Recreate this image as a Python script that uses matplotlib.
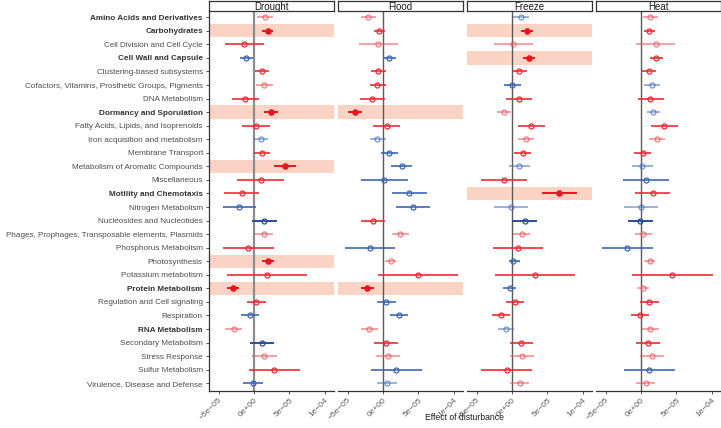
import matplotlib
matplotlib.use("Agg")
import matplotlib.pyplot as plt
import numpy as np

plt.rcParams['font.family'] = ['Liberation Sans', 'DejaVu Sans']

categories = [
    "Amino Acids and Derivatives", "Carbohydrates", "Cell Division and Cell Cycle",
    "Cell Wall and Capsule", "Clustering-based subsystems",
    "Cofactors, Vitamins, Prosthetic Groups, Pigments", "DNA Metabolism",
    "Dormancy and Sporulation", "Fatty Acids, Lipids, and Isoprenoids",
    "Iron acquisition and metabolism", "Membrane Transport",
    "Metabolism of Aromatic Compounds", "Miscellaneous", "Motility and Chemotaxis",
    "Nitrogen Metabolism", "Nucleosides and Nucleotides",
    "Phages, Prophages, Transposable elements, Plasmids", "Phosphorus Metabolism",
    "Photosynthesis", "Potassium metabolism", "Protein Metabolism",
    "Regulation and Cell signaling", "Respiration", "RNA Metabolism",
    "Secondary Metabolism", "Stress Response", "Sulfur Metabolism",
    "Virulence, Disease and Defense",
]
bold_categories = ["Amino Acids and Derivatives", "Carbohydrates", "Cell Wall and Capsule",
                   "Dormancy and Sporulation", "Motility and Chemotaxis",
                   "Protein Metabolism", "RNA Metabolism"]

panels = ["Drought", "Flood", "Freeze", "Heat"]

# values in units of 1e-5
drought_mean = [1.55, 1.92, -1.36, -1.08, 1.08, 1.46, -1.22, 2.39, 0.23, 0.94, 1.08, 4.41, 0.99, -1.74,
                -2.11, 1.46, 1.36, -0.80, 1.97, 1.78, -2.96, 0.28, -0.61, -2.86, 1.08, 1.46, 2.86, -0.19]
drought_lo = [0.47, 1.17, -4.04, -1.97, 0.09, 0.28, -3.05, 1.46, -1.64, -0.19, -0.05, 2.86, -2.35, -4.23,
              -4.41, -0.28, 0.19, -4.32, 1.17, -3.85, -3.85, -1.03, -1.88, -4.04, -0.56, -0.28, -0.70, -1.50]
drought_hi = [2.63, 2.72, 1.41, -0.09, 2.16, 2.63, 0.66, 3.33, 2.21, 2.02, 2.30, 5.92, 4.27, 0.75,
              0.28, 3.24, 2.63, 2.82, 2.82, 7.42, -2.07, 1.64, 0.66, -1.64, 2.77, 3.19, 6.48, 1.22]
drought_col = ["l", "R", "r", "b", "r", "l", "r", "R", "r", "k", "r", "R", "r", "r",
               "b", "d", "l", "r", "R", "r", "R", "r", "b", "l", "d", "l", "r", "b"]

flood_mean = [-2.11, -0.56, -0.66, 0.89, -0.66, -0.80, -1.50, -3.90, 0.52, -0.80, 0.89, 2.63, 0.19, 3.71,
              4.18, -1.41, 2.44, -1.83, 1.08, 4.93, -2.21, 0.47, 2.25, -1.92, 0.47, 0.75, 1.83, 0.61]
flood_lo = [-3.15, -1.31, -3.38, 0.05, -1.74, -1.88, -3.29, -4.88, -1.36, -1.88, -0.28, 1.13, -3.05, 1.27,
            1.83, -3.15, 1.27, -5.31, 0.33, -0.70, -3.10, -0.80, 1.03, -3.05, -1.22, -0.94, -1.69, -0.80]
flood_hi = [-1.03, 0.28, 2.07, 1.78, 0.42, 0.42, 0.33, -2.91, 2.44, 0.38, 2.16, 4.13, 3.52, 6.20,
            6.57, 0.33, 3.66, 1.74, 1.88, 10.56, -1.27, 1.83, 3.52, -0.70, 2.16, 2.44, 5.45, 1.97]
flood_col = ["l", "r", "l", "b", "r", "r", "r", "R", "r", "k", "b", "b", "b", "b",
             "b", "r", "l", "b", "l", "r", "R", "b", "b", "l", "r", "l", "b", "k"]

freeze_mean = [1.27, 2.11, 0.19, 2.35, 1.03, 0.05, 0.99, -1.13, 2.72, 1.97, 1.50, 1.03, -1.17, 6.67,
               -0.09, 1.78, 1.36, 0.89, 0.19, 3.24, -0.33, 0.42, -1.60, -0.85, 1.31, 1.36, -0.75, 1.08]
freeze_lo = [0.19, 1.27, -2.54, 1.50, 0.05, -1.08, -0.85, -2.07, 0.85, 0.85, 0.33, -0.47, -4.41, 4.23,
             -2.49, 0.05, 0.14, -2.72, -0.42, -2.39, -1.27, -0.89, -2.86, -2.02, -0.33, -0.33, -4.32, -0.28]
freeze_hi = [2.35, 2.96, 2.91, 3.24, 2.07, 1.22, 2.82, -0.19, 4.69, 3.10, 2.72, 2.54, 2.16, 9.20,
             2.30, 3.57, 2.58, 4.41, 1.08, 8.92, 0.52, 1.74, -0.33, 0.28, 3.00, 3.05, 2.86, 2.44]
freeze_col = ["k", "R", "l", "R", "r", "b", "r", "l", "r", "l", "r", "k", "r", "R",
              "k", "d", "l", "r", "b", "r", "b", "r", "r", "k", "r", "l", "r", "l"]

heat_mean = [1.31, 1.17, 2.07, 2.16, 1.13, 1.50, 1.31, 1.74, 3.24, 2.21, 0.23, 0.19, 0.66, 1.64,
             -0.05, -0.09, 0.28, -1.92, 1.22, 4.37, 0.28, 1.17, -0.09, 1.27, 0.94, 1.50, 1.17, 0.66]
heat_lo = [0.23, 0.38, -0.66, 1.27, 0.05, 0.38, -0.47, 0.80, 1.36, 1.08, -0.99, -1.31, -2.58, -0.85,
           -2.44, -1.83, -0.89, -5.49, 0.42, -1.22, -0.61, -0.14, -1.36, 0.09, -0.75, -0.19, -2.39, -0.66]
heat_hi = [2.39, 1.97, 4.79, 3.05, 2.16, 2.68, 3.19, 2.72, 5.16, 3.33, 1.46, 1.74, 3.99, 4.13,
           2.35, 1.64, 1.50, 1.64, 1.97, 10.09, 1.17, 2.49, 1.17, 2.49, 2.63, 3.24, 4.74, 2.02]
heat_col = ["l", "r", "l", "r", "r", "k", "r", "k", "r", "l", "r", "k", "b", "r",
            "k", "d", "l", "b", "l", "r", "l", "r", "r", "l", "r", "l", "b", "l"]

data = {
    "Drought": (drought_mean, drought_lo, drought_hi, drought_col),
    "Flood": (flood_mean, flood_lo, flood_hi, flood_col),
    "Freeze": (freeze_mean, freeze_lo, freeze_hi, freeze_col),
    "Heat": (heat_mean, heat_lo, heat_hi, heat_col),
}

styles = {
    "r": ("#EE2A33", 0.85, False),
    "l": ("#F0535A", 0.55, False),
    "R": ("#E8141E", 1.0, True),
    "b": ("#3D66B5", 0.85, False),
    "k": ("#4A72BE", 0.55, False),
    "d": ("#2B4E9A", 1.0, False),
}

W, H = 721, 428
fig = plt.figure(figsize=(W / 100, H / 100), dpi=100)

panel_left = [209, 338, 467, 596]
panel_w = 125
top_px, bot_px = 11, 391
xlim = (-6.34e-5, 1.127e-4)
n = len(categories)
ypos = np.arange(n)

for p, name in enumerate(panels):
    mean, lo, hi, col = data[name]
    l = panel_left[p]
    ax = fig.add_axes([l / W, 1 - bot_px / H, panel_w / W, (bot_px - top_px) / H])
    ax.set_xlim(*xlim)
    ax.set_ylim(n - 1 + 0.57, -0.46)
    # highlight bands
    for i in range(n):
        if col[i] == "R":
            ax.axhspan(i - 0.49, i + 0.49, color="#FAD3C5", lw=0, zorder=0)
    if p == 0:
        ax.axvline(0, color="#8c8c8c", lw=1.6, zorder=1)
    else:
        ax.axvline(0, color="#5a5a5a", lw=1.0, zorder=1)
    for i in range(n):
        c, a, filled = styles[col[i]]
        m = mean[i] * 1e-5
        ax.plot([lo[i] * 1e-5, hi[i] * 1e-5], [i, i], color=c, alpha=a, lw=1.4,
                solid_capstyle="butt", zorder=2)
        if filled:
            ax.plot(m, i, "o", ms=3.8, mfc=c, mec=c, mew=0.9, zorder=3)
        else:
            ax.plot(m, i, "o", ms=3.6, mfc="none", mec=c, mew=0.9, alpha=min(1, a + 0.2), zorder=3)
    for s in ["top", "right"]:
        ax.spines[s].set_visible(False)
    ax.spines["bottom"].set_color("#333333")
    ax.spines["bottom"].set_linewidth(0.9)
    ax.set_xticks([-5e-5, 0, 5e-5, 1e-4])
    ax.set_xticklabels(["−5e−05", "0e+00", "5e−05", "1e−04"], rotation=45, ha="right",
                       va="top", rotation_mode="anchor", fontsize=6.0, color="#5a5a5a")
    ax.tick_params(axis="x", length=2.5, width=0.6, color="#333333", pad=1.5)
    ax.set_facecolor("white")
    if p == 0:
        ax.spines["left"].set_color("#333333")
        ax.spines["left"].set_linewidth(0.9)
        ax.set_yticks(ypos)
        ax.set_yticklabels(categories, fontsize=5.9, color="#4d4d4d")
        ax.tick_params(axis="y", length=2.5, width=0.6, color="#333333", pad=2)
        for t in ax.get_yticklabels():
            if t.get_text() in bold_categories:
                t.set_fontweight("bold")
                t.set_color("#333333")
    else:
        ax.spines["left"].set_visible(False)
        ax.set_yticks([])
    # strip
    sax = fig.add_axes([l / W, 1 - top_px / H, panel_w / W, 10 / H])
    sax.set_xticks([]); sax.set_yticks([])
    for s in sax.spines.values():
        s.set_color("#333333"); s.set_linewidth(0.9)
    sax.text(0.5, 0.45, name, ha="center", va="center", fontsize=7.0, color="#1a1a1a",
             transform=sax.transAxes)

fig.text(464 / W, 1 - 418 / H, "Effect of disturbance", ha="center", va="center",
         fontsize=6.2, color="#1a1a1a")

fig.savefig("out.png", dpi=100, facecolor="white")
